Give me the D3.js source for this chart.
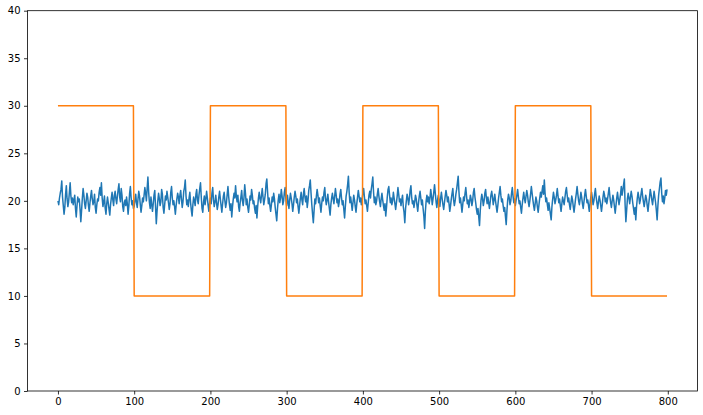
<!DOCTYPE html>
<html>
<head>
<meta charset="utf-8">
<script src="https://cdn.jsdelivr.net/npm/d3@7"></script>
<style>
  html, body { margin: 0; padding: 0; background: #fff; }
  text { font-family: "DejaVu Sans", sans-serif; }
</style>
</head>
<body>
<div id="chart"></div>
<script>
// Noisy signal (index 0..799)
const noise = [
  20.0, 19.6, 20.3, 20.8, 21.2, 22.1, 20.4, 19.5, 18.6, 19.3,
  20.7, 21.6, 20.2, 19.4, 19.9, 20.9, 21.9, 20.5, 19.8, 20.3,
  19.6, 20.1, 20.6, 19.2, 18.3, 19.5, 20.4, 19.9, 20.2, 19.1,
  17.8, 19.0, 20.3, 21.3, 20.6, 19.7, 19.2, 20.0, 20.8, 20.4,
  19.5, 18.9, 19.8, 20.5, 21.1, 20.2, 19.6, 19.9, 20.7, 19.3,
  18.7, 19.6, 20.2, 20.0, 20.9, 21.4, 20.6, 21.9, 20.3, 19.4,
  19.9, 20.5, 19.2, 18.6, 19.7, 20.4, 19.8, 19.1, 18.5, 19.6,
  20.3, 20.9, 20.1, 19.5, 20.6, 21.0, 20.2, 19.7, 20.5, 21.2,
  21.8, 20.4, 19.9, 21.3, 20.6, 19.4, 18.9, 19.8, 20.1, 19.5,
  20.4, 19.7, 18.6, 19.5, 20.8, 21.5, 20.3, 19.6, 20.0, 19.2,

  19.4, 20.1, 20.7, 19.8, 19.3, 20.2, 21.0, 20.5, 19.6, 18.8,
  19.5, 20.3, 19.9, 20.6, 21.4, 20.8, 20.0, 21.3, 22.5, 20.9,
  19.8, 19.2, 20.4, 19.6, 18.9, 19.7, 20.6, 21.1, 19.4, 17.6,
  18.9, 20.0, 20.8, 20.2, 19.5, 19.9, 21.2, 20.7, 19.3, 18.7,
  19.6, 20.5, 20.1, 21.0, 20.4, 19.8, 19.1, 19.7, 20.9, 21.5,
  20.3, 19.6, 20.0, 19.4, 18.6, 19.5, 20.2, 20.8, 20.4, 19.7,
  20.6, 21.1, 20.2, 19.3, 19.9, 21.0, 21.4, 22.2, 20.5, 19.6,
  20.1, 19.4, 20.3, 20.9, 19.8, 19.0, 18.4, 19.6, 20.4, 20.0,
  19.5, 20.7, 21.2, 20.1, 19.7, 20.6, 21.3, 21.9, 20.4, 19.2,
  18.8, 19.9, 20.5, 19.6, 20.2, 21.0, 20.3, 19.5, 18.9, 19.8,

  20.3, 19.7, 20.8, 21.4, 20.1, 19.4, 19.9, 20.6, 19.8, 19.1,
  19.6, 20.4, 21.0, 20.2, 19.5, 18.8, 19.7, 20.5, 20.9, 20.0,
  19.3, 19.8, 20.7, 21.5, 20.4, 19.6, 19.0, 19.7, 18.3, 19.4,
  20.2, 20.8, 20.3, 21.6, 20.5, 19.9, 20.6, 19.4, 18.9, 19.8,
  20.4, 21.1, 20.0, 19.5, 20.3, 21.7, 20.8, 19.6, 20.2, 19.3,
  18.8, 19.6, 20.5, 20.1, 21.2, 20.6, 19.7, 20.0, 19.2, 18.7,
  19.5, 18.2, 19.4, 20.3, 20.9, 20.2, 19.8, 20.6, 21.3, 20.4,
  19.6, 20.1, 20.7, 21.8, 22.3, 20.9, 19.7, 20.3, 19.5, 18.9,
  19.6, 20.4, 19.9, 20.8, 20.2, 19.3, 18.6, 17.9, 19.2, 20.1,
  20.7, 19.8, 20.3, 21.2, 20.5, 19.6, 20.0, 20.9, 21.4, 20.2,

  19.5, 20.6, 19.9, 19.2, 20.1, 20.8, 20.3, 19.7, 18.9, 19.6,
  20.4, 21.0, 20.5, 19.8, 20.2, 19.4, 18.7, 19.5, 20.3, 20.9,
  20.1, 19.6, 20.7, 21.3, 20.4, 19.9, 20.5, 19.3, 20.0, 21.1,
  21.6, 22.2, 20.8, 19.6, 18.6, 17.7, 19.0, 20.2, 19.7, 20.5,
  21.2, 20.6, 19.8, 20.3, 19.5, 18.8, 19.7, 20.4, 20.0, 20.9,
  21.4, 20.2, 19.6, 20.1, 20.7, 19.9, 19.2, 18.5, 19.6, 20.3,
  20.8, 20.2, 19.7, 20.5, 21.3, 20.6, 19.8, 20.2, 19.4, 19.9,
  20.7, 21.2, 20.3, 19.6, 20.0, 19.1, 18.2, 19.4, 20.5, 21.0,
  21.7, 22.6, 20.9, 19.8, 20.4, 19.7, 19.0, 19.8, 20.6, 20.1,
  19.4, 18.8, 19.7, 20.4, 21.1, 20.5, 19.9, 20.3, 19.6, 20.2,

  20.8, 21.3, 20.4, 19.7, 20.1, 19.5, 18.9, 19.8, 20.6, 21.0,
  20.3, 21.2, 21.8, 22.5, 20.9, 19.8, 20.4, 19.6, 20.0, 20.7,
  21.3, 20.5, 19.9, 19.4, 20.2, 20.8, 20.1, 19.5, 19.0, 19.7,
  18.4, 19.3, 20.4, 21.2, 21.5, 20.6, 19.8, 20.3, 19.6, 20.0,
  20.9, 20.3, 19.7, 19.1, 19.8, 20.5, 21.4, 20.7, 19.9, 20.2,
  19.5, 20.1, 20.6, 19.4, 18.8, 17.7, 19.2, 20.0, 20.7, 20.3,
  19.6, 20.2, 21.1, 21.6, 20.4, 19.7, 20.0, 19.3, 19.9, 20.6,
  20.2, 19.5, 18.9, 19.8, 20.5, 21.0, 20.3, 19.6, 20.1, 19.2,
  18.4, 17.1, 18.9, 20.0, 20.6, 19.9, 20.4, 19.7, 20.3, 21.2,
  20.5, 19.6, 20.2, 20.9, 21.7, 20.8, 19.9, 19.3, 20.1, 20.6,

  20.0, 19.4, 20.3, 20.9, 20.2, 19.6, 19.1, 19.8, 20.5, 21.1,
  20.6, 19.9, 20.4, 19.7, 18.9, 19.5, 20.2, 20.8, 21.3, 20.1,
  19.5, 20.0, 20.7, 21.2, 21.9, 22.6, 21.0, 19.8, 20.3, 19.6,
  18.8, 19.6, 20.4, 20.0, 20.8, 21.4, 20.5, 19.7, 20.1, 19.3,
  19.9, 20.6, 20.2, 19.5, 20.0, 20.9, 21.3, 20.4, 19.8, 19.1,
  18.6, 19.2, 18.3, 17.4, 19.0, 20.1, 20.7, 20.2, 19.5, 20.0,
  20.8, 21.2, 20.3, 19.7, 20.4, 19.8, 19.2, 19.9, 20.6, 21.0,
  20.4, 19.6, 20.1, 20.7, 20.0, 19.4, 18.8, 19.5, 20.3, 20.9,
  21.5, 20.6, 19.9, 20.2, 19.5, 18.9, 19.3, 18.4, 17.5, 19.0,
  20.1, 20.7, 20.3, 19.6, 20.0, 20.8, 21.4, 20.5, 19.8, 20.2,

  19.5, 20.1, 20.6, 21.2, 20.4, 19.7, 20.0, 19.3, 18.7, 19.6,
  20.3, 20.9, 20.2, 19.8, 20.5, 21.1, 20.6, 19.9, 19.4, 20.0,
  20.7, 21.5, 20.8, 20.1, 19.5, 19.0, 19.7, 20.4, 20.0, 19.3,
  18.8, 19.6, 20.3, 20.9, 20.4, 21.0, 21.6, 20.7, 22.2, 20.8,
  19.9, 20.3, 19.6, 19.0, 19.8, 19.2, 18.6, 18.0, 19.4, 20.2,
  20.9, 20.4, 19.7, 20.1, 20.6, 21.3, 20.5, 19.8, 20.2, 19.5,
  18.9, 19.7, 20.4, 20.0, 19.6, 20.3, 21.0, 21.4, 20.6, 19.9,
  20.3, 19.6, 19.1, 19.8, 20.5, 20.1, 19.4, 18.8, 19.5, 20.2,
  20.8, 21.5, 20.7, 20.0, 19.6, 20.2, 20.9, 20.4, 19.7, 19.2,
  19.9, 20.6, 21.2, 20.5, 19.8, 20.1, 19.5, 18.9, 19.7, 20.4,

  20.9, 20.3, 19.6, 20.0, 20.7, 21.3, 20.4, 19.8, 19.2, 19.9,
  20.5, 20.1, 19.5, 18.9, 19.6, 20.4, 21.0, 20.6, 19.9, 20.3,
  19.7, 20.2, 20.8, 21.4, 20.5, 19.8, 19.3, 20.0, 20.6, 20.1,
  19.4, 18.7, 19.5, 20.3, 20.9, 20.2, 19.6, 20.1, 20.7, 21.5,
  20.6, 21.1, 21.7, 22.3, 19.6, 17.8, 19.0, 20.2, 20.8, 20.3,
  19.7, 20.4, 21.0, 20.5, 19.8, 19.2, 18.6, 19.3, 18.0, 19.4,
  20.3, 20.9, 20.4, 19.7, 20.1, 20.8, 21.3, 20.5, 19.9, 19.4,
  20.0, 20.6, 20.2, 19.5, 18.9, 19.7, 20.4, 21.2, 20.7, 20.1,
  19.6, 20.3, 21.0, 20.4, 19.8, 19.0, 18.0, 19.5, 20.6, 21.3,
  22.0, 22.4, 20.8, 19.9, 20.5, 19.7, 20.3, 21.1, 20.6, 21.2
];

// Square wave: one level per block of 100 samples
const squareLevels = [30, 10, 30, 10, 30, 10, 30, 10];
const blockLength = 100;

const xTicks = [0, 100, 200, 300, 400, 500, 600, 700, 800];
const yTicks = [0, 5, 10, 15, 20, 25, 30, 35, 40];

const width = 703, height = 415;
const margin = { left: 27.5, top: 10.7, right: 5.5, bottom: 24 };
const plotW = width - margin.left - margin.right;
const plotH = height - margin.top - margin.bottom;

const squareData = [];
squareLevels.forEach(level => {
    for (let i = 0; i < blockLength; i++) squareData.push(level);
});

const n = noise.length;
// matplotlib-style 5% padding around the data range
const pad = (n - 1) * 0.05;
const x = d3.scaleLinear().domain([-pad, n - 1 + pad]).range([0, plotW]);
const y = d3.scaleLinear().domain([0, 40]).range([plotH, 0]);

const svg = d3.select('#chart')
    .append('svg')
    .attr('width', width)
    .attr('height', height);

const g = svg.append('g')
    .attr('transform', `translate(${margin.left}, ${margin.top})`);

const line = d3.line()
    .x((d, i) => x(i))
    .y(d => y(d));

g.append('path')
    .datum(noise)
    .attr('fill', 'none')
    .attr('stroke', '#1f77b4')
    .attr('stroke-width', 1.5)
    .attr('stroke-linejoin', 'round')
    .attr('d', line);

g.append('path')
    .datum(squareData)
    .attr('fill', 'none')
    .attr('stroke', '#ff7f0e')
    .attr('stroke-width', 1.5)
    .attr('stroke-linejoin', 'round')
    .attr('d', line);

// Axes
const xAxis = g.append('g')
    .attr('transform', `translate(0, ${plotH})`)
    .call(d3.axisBottom(x).tickValues(xTicks).tickSize(3.5).tickPadding(3.5));
const yAxis = g.append('g')
    .call(d3.axisLeft(y).tickValues(yTicks).tickSize(3.5).tickPadding(3.5));

[xAxis, yAxis].forEach(ax => {
    ax.select('.domain').remove();
    ax.selectAll('.tick line').attr('stroke', '#000').attr('stroke-width', 0.8);
    ax.selectAll('.tick text')
        .attr('fill', '#000')
        .style('font-size', '10px')
        .style('font-family', '"DejaVu Sans", sans-serif');
});

// Frame
g.append('rect')
    .attr('x', 0)
    .attr('y', 0)
    .attr('width', plotW)
    .attr('height', plotH)
    .attr('fill', 'none')
    .attr('stroke', '#000')
    .attr('stroke-width', 0.8);
</script>
</body>
</html>
